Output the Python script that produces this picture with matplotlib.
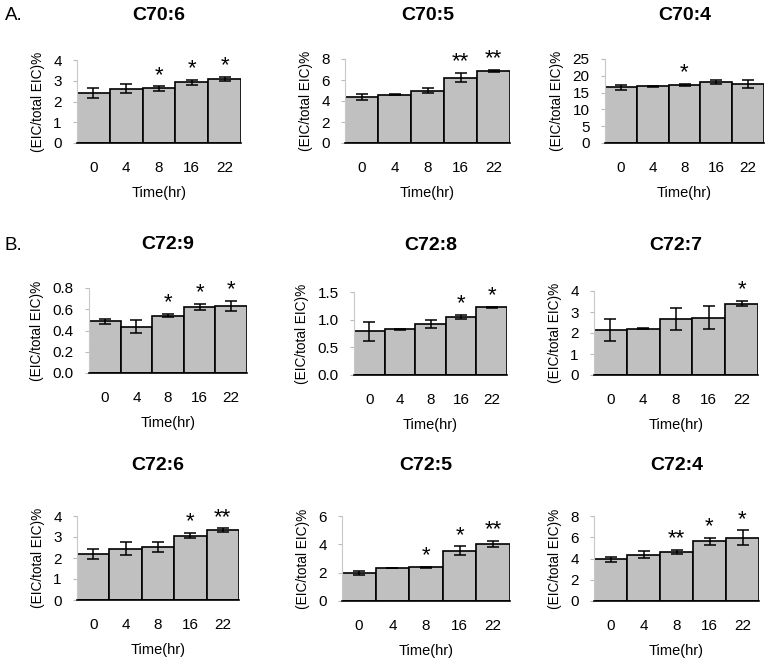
import matplotlib
matplotlib.use("Agg")
import matplotlib.pyplot as plt
import numpy as np

plt.rcParams['font.family'] = ['Liberation Sans', 'DejaVu Sans']

times = ["0", "4", "8", "16", "22"]

titles = ["C70:6", "C70:5", "C70:4", "C72:9", "C72:8", "C72:7", "C72:6", "C72:5", "C72:4"]

c70_6 = [2.42, 2.62, 2.63, 2.92, 3.09]
c70_6_err = [0.23, 0.21, 0.10, 0.14, 0.09]
c70_6_sig = ["", "", "*", "*", "*"]

c70_5 = [4.37, 4.59, 4.98, 6.23, 6.87]
c70_5_err = [0.25, 0.05, 0.24, 0.43, 0.08]
c70_5_sig = ["", "", "", "**", "**"]

c70_4 = [16.6, 16.9, 17.3, 18.1, 17.6]
c70_4_err = [0.75, 0.2, 0.3, 0.55, 1.2]
c70_4_sig = ["", "", "*", "", ""]

c72_9 = [0.487, 0.437, 0.54, 0.62, 0.63]
c72_9_err = [0.022, 0.06, 0.016, 0.03, 0.047]
c72_9_sig = ["", "", "*", "*", "*"]

c72_8 = [0.79, 0.83, 0.92, 1.05, 1.22]
c72_8_err = [0.17, 0.01, 0.07, 0.04, 0.015]
c72_8_sig = ["", "", "", "*", "*"]

c72_7 = [2.15, 2.21, 2.67, 2.73, 3.40]
c72_7_err = [0.51, 0.04, 0.54, 0.55, 0.12]
c72_7_sig = ["", "", "", "", "*"]

c72_6 = [2.21, 2.45, 2.51, 3.07, 3.32]
c72_6_err = [0.24, 0.32, 0.24, 0.14, 0.09]
c72_6_sig = ["", "", "", "*", "**"]

c72_5 = [1.99, 2.30, 2.37, 3.56, 4.02]
c72_5_err = [0.16, 0.0, 0.05, 0.30, 0.22]
c72_5_sig = ["", "", "*", "*", "**"]

c72_4 = [3.92, 4.36, 4.60, 5.61, 5.96]
c72_4_err = [0.23, 0.31, 0.22, 0.33, 0.69]
c72_4_sig = ["", "", "**", "*", "*"]

values = [c70_6, c70_5, c70_4, c72_9, c72_8, c72_7, c72_6, c72_5, c72_4]
errors = [c70_6_err, c70_5_err, c70_4_err, c72_9_err, c72_8_err, c72_7_err, c72_6_err, c72_5_err, c72_4_err]
sigs = [c70_6_sig, c70_5_sig, c70_4_sig, c72_9_sig, c72_8_sig, c72_7_sig, c72_6_sig, c72_5_sig, c72_4_sig]
ymax = [4, 8, 25, 0.8, 1.5, 4, 4, 6, 8]
ystep = [1, 2, 5, 0.2, 0.5, 1, 1, 2, 2]
yfmt = ["%d", "%d", "%d", "%.1f", "%.1f", "%d", "%d", "%d", "%d"]

W, H = 768, 661
# axes boxes in pixels: left, right, top, bottom
boxes = [
    (77, 241, 60, 143), (345, 510, 59, 143), (605, 764, 59, 143),
    (89, 247, 288, 373), (354, 507, 292, 375), (594, 758, 291, 375),
    (77, 239, 516, 600), (342, 510, 516, 601), (594, 759, 516, 601),
]
title_y = [15, 15, 15, 245, 245, 245, 466, 466, 466]

fig = plt.figure(figsize=(W / 100, H / 100), dpi=100)

for i in range(9):
    l, r, t, b = boxes[i]
    ax = fig.add_axes([l / W, 1 - b / H, (r - l) / W, (b - t) / H])
    x = np.arange(len(times))
    ax.bar(x, values[i], width=1.0, color="#c0c0c0", edgecolor="black", linewidth=1.2, zorder=2)
    ax.errorbar(x, values[i], yerr=errors[i], fmt="none", ecolor="black", elinewidth=1.1,
                capsize=4.5, capthick=1.1, zorder=3)
    for xi, v, e, s in zip(x, values[i], errors[i], sigs[i]):
        if s:
            ax.text(xi, v + e + ymax[i] * 0.005, s, ha="center", va="bottom", fontsize=16, zorder=4)
    ax.set_xlim(-0.5, 4.5)
    ax.set_ylim(0, ymax[i])
    ticks = np.arange(0, ymax[i] + ystep[i] / 2, ystep[i])
    ax.set_yticks(ticks)
    ax.set_yticklabels([yfmt[i] % tv for tv in ticks], fontsize=11)
    ax.set_xticks(x)
    ax.set_xticklabels(times, fontsize=11)
    ax.tick_params(axis="x", length=0, pad=13)
    ax.tick_params(axis="y", length=3, color="#bbbbbb", pad=8)
    for sp in ["top", "right"]:
        ax.spines[sp].set_visible(False)
    ax.spines["left"].set_color("#c8c8c8")
    ax.spines["left"].set_linewidth(0.8)
    ax.spines["bottom"].set_color("black")
    ax.spines["bottom"].set_linewidth(1.2)
    ax.set_xlabel("Time(hr)", fontsize=10.5, labelpad=8)
    ax.set_ylabel("(EIC/total EIC)%", fontsize=9.8, labelpad=6)
    ax.set_title(titles[i], fontsize=14, fontweight="bold", pad=0,
                 y=1 + ((t - title_y[i]) / (b - t)), va="center")

fig.text(5 / W, 1 - 15 / H, "A.", fontsize=13.5, va="center", ha="left")
fig.text(5 / W, 1 - 245 / H, "B.", fontsize=13.5, va="center", ha="left")

fig.savefig("out.png", dpi=100)
